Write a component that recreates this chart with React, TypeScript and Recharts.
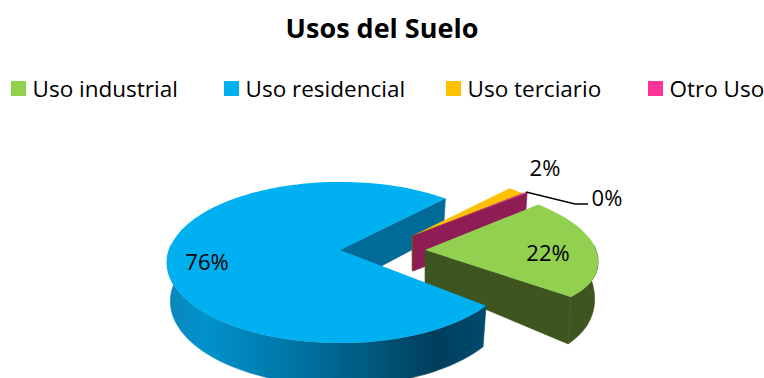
import { Legend, Pie, PieChart } from 'recharts'

const names = ['Uso industrial', 'Uso residencial', 'Uso terciario', 'Otro Uso']
const shares = [22, 76, 1.8, 0.2]
const colors = ['#92D050', '#00B0F0', '#FFC000', '#FF3399']

const tableData = names.map((name, i) => ({ name, value: shares[i], fill: colors[i] }))

// look of each slice: explode offset, radial size, wall depth and colours
const SLICE_STYLE = [
  { dx: 85, dy: 0, radial: 1, depth: 34, tilt: 0.6, flatFront: 0.25, pinchBack: 0.14, cut: '#3E5520', rim: '#3E5520' },
  { dx: 0, dy: 0, radial: 1, depth: 38, tilt: 0.12, flatFront: 0, pinchBack: 0, cut: '#006B96', rim: 'url(#blueRim)' },
  { dx: 72, dy: -14, radial: 0.92, depth: 35, tilt: 0, flatFront: 0, pinchBack: 0, cut: '#7F6000', rim: '#7F6000' },
  { dx: 73, dy: -14, radial: 0.945, depth: 35, tilt: 0, flatFront: 0, pinchBack: 0, cut: '#8F1D55', rim: '#8F1D55' },
]
const LABEL_POS = [
  { x: 548, y: 252 },
  { x: 207, y: 261 },
  { x: 545, y: 167 },
  { x: 607, y: 197 },
]

const FONT = '"Open Sans", sans-serif'
const PERSPECTIVE = 0.155
const SQUASH = 0.46
const BOTTOM_SHRINK = 0.98

type Pt = [number, number]
type Style = (typeof SLICE_STYLE)[number]

function project(cx: number, cy: number, r: number, u: number, v: number, st: Style, bottom: boolean): Pt {
  const w = 1 - PERSPECTIVE * v
  let x = (r * u) / w
  let y = (r * SQUASH * v) / w
  if (v > 0) y *= 1 - st.flatFront * v
  if (v < 0) x *= 1 - st.pinchBack * v * v
  if (bottom) {
    x *= BOTTOM_SHRINK
    y += st.depth * (1 + st.tilt * v)
  }
  return [cx + st.dx + x, cy + st.dy + y]
}

const toPoints = (pts: Pt[]) => pts.map(p => `${p[0].toFixed(1)},${p[1].toFixed(1)}`).join(' ')

function sliceShape(pass: 'back' | 'front') {
  return function SliceShape(props: any) {
    const { cx, cy, outerRadius, startAngle, endAngle, index } = props
    const st = SLICE_STYLE[index]
    const onRim = (deg: number, radial: number): [number, number] => {
      const a = (deg * Math.PI) / 180
      return [Math.cos(a) * radial, -Math.sin(a) * radial]
    }
    const at = (deg: number, radial: number, bottom: boolean) => {
      const [u, v] = onRim(deg, radial)
      return project(cx, cy, outerRadius, u, v, st, bottom)
    }

    const angles: number[] = []
    const steps = Math.max(1, Math.ceil(Math.abs(endAngle - startAngle) / 2))
    for (let i = 0; i <= steps; i++) angles.push(startAngle + ((endAngle - startAngle) * i) / steps)

    const top = [at(0, 0, false), ...angles.map(a => at(a, st.radial, false))]
    const cutFace = [at(0, 0, false), at(endAngle, st.radial, false), at(endAngle, st.radial, true), at(0, 0, true)]
    const rimAngles = angles.filter(a => onRim(a, 1)[1] > -0.08)
    const rimFace = [
      ...rimAngles.map(a => at(a, st.radial, false)),
      ...[...rimAngles].reverse().map(a => at(a, st.radial, true)),
    ]

    // blue is split over the two passes: its notch wall sits behind the
    // thin slices, while its top sits in front of the green wall
    const drawCut = index === 1 ? pass === 'back' : index >= 2 ? pass === 'back' : pass === 'front'
    const drawBody = index >= 2 ? pass === 'back' : pass === 'front'

    return (
      <g>
        <defs>
          <linearGradient id="blueRim" gradientUnits="userSpaceOnUse" x1="167" y1="0" x2="482" y2="0">
            <stop offset="0" stopColor="#0B86BA" />
            <stop offset="0.12" stopColor="#0092CC" />
            <stop offset="0.45" stopColor="#00709E" />
            <stop offset="0.85" stopColor="#003E5B" />
            <stop offset="1" stopColor="#004A6B" />
          </linearGradient>
        </defs>
        {drawCut && <polygon points={toPoints(cutFace)} fill={st.cut} stroke={st.cut} strokeWidth={0.6} />}
        {drawBody && rimAngles.length > 1 && <polygon points={toPoints(rimFace)} fill={st.rim} stroke={st.rim} strokeWidth={0.6} />}
        {drawBody && <polygon points={toPoints(top)} fill={colors[index]} />}
      </g>
    )
  }
}

function renderLabel(props: any) {
  const { index, percent } = props
  const pos = LABEL_POS[index]
  const st = SLICE_STYLE[index]
  return (
    <g key={`label-${index}`}>
      {index === 3 && (
        <polyline
          points={`${props.cx + st.dx + 113},${props.cy + st.dy - 44} 575,204 588,204`}
          fill="none"
          stroke="#000"
          strokeWidth={1.3}
        />
      )}
      <text x={pos.x} y={pos.y} textAnchor="middle" dominantBaseline="central" fontFamily={FONT} fontSize={22} fill="#000">
        {`${Math.round(percent * 100)}%`}
      </text>
    </g>
  )
}

const LEGEND_X = [11, 224, 446, 648]

function renderLegend(props: any) {
  const items = (props.payload || []).slice(0, names.length)
  return (
    <div style={{ position: 'relative', width: 764, height: 40, fontFamily: FONT, fontSize: 22.5, color: '#000' }}>
      {items.map((item: any, i: number) => (
        <div key={i} style={{ position: 'absolute', left: LEGEND_X[i], top: 0, display: 'flex', alignItems: 'center', height: 36, whiteSpace: 'nowrap' }}>
          <span style={{ display: 'inline-block', width: 15, height: 15, background: colors[i], marginRight: 6.5 }} />
          <span>{item.value}</span>
        </div>
      ))}
    </div>
  )
}

export default function App() {
  return (
    <div style={{ position: 'absolute', left: 0, top: 0, width: 764, height: 378, background: '#fff', overflow: 'hidden' }}>
      <div style={{ position: 'absolute', left: 0, top: 9, width: 764, textAlign: 'center', fontFamily: FONT, fontWeight: 700, fontSize: 27, color: '#000' }}>
        Usos del Suelo
      </div>
      <PieChart width={764} height={378} margin={{ top: 0, right: 0, bottom: 0, left: 0 }}>
        <Legend content={renderLegend} itemSorter={null} wrapperStyle={{ left: 0, top: 70, width: 764, bottom: 'auto' }} />
        <Pie
          data={tableData}
          dataKey="value"
          nameKey="name"
          cx={340}
          cy={250}
          outerRadius={171}
          startAngle={39.5}
          endAngle={-320.5}
          stroke="none"
          label={false}
          labelLine={false}
          isAnimationActive={false}
          shape={sliceShape('back')}
        />
        <Pie
          data={tableData}
          dataKey="value"
          nameKey="name"
          cx={340}
          cy={250}
          outerRadius={171}
          startAngle={39.5}
          endAngle={-320.5}
          stroke="none"
          legendType="none"
          label={renderLabel}
          labelLine={false}
          isAnimationActive={false}
          shape={sliceShape('front')}
        />
      </PieChart>
    </div>
  )
}
